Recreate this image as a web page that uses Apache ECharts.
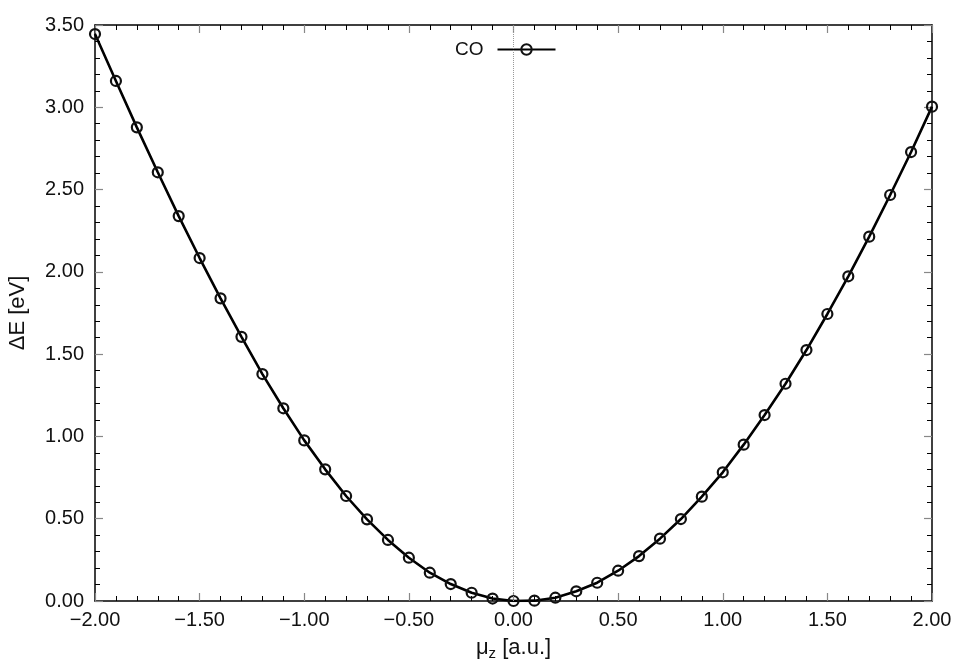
<!DOCTYPE html>
<html>
<head>
<meta charset="utf-8">
<script src="https://cdn.jsdelivr.net/npm/echarts@6/dist/echarts.min.js"></script>
<style>html,body{margin:0;padding:0;background:#fff}#c{width:955px;height:660px}</style>
</head>
<body>
<div id="c"></div>
<script>
const seriesName = 'CO';
const muZ = [-2.0,-1.9,-1.8,-1.7,-1.6,-1.5,-1.4,-1.3,-1.2,-1.1,-1.0,-0.9,-0.8,-0.7,-0.6,-0.5,-0.4,-0.3,-0.2,-0.1,0.0,0.1,0.2,0.3,0.4,0.5,0.6,0.7,0.8,0.9,1.0,1.1,1.2,1.3,1.4,1.5,1.6,1.7,1.8,1.9,2.0];
const deltaE = [3.445,3.160,2.878,2.605,2.339,2.084,1.839,1.605,1.379,1.171,0.976,0.800,0.638,0.496,0.371,0.263,0.172,0.103,0.050,0.015,0.000,0.002,0.020,0.059,0.111,0.184,0.273,0.379,0.498,0.634,0.782,0.950,1.130,1.320,1.525,1.744,1.973,2.214,2.467,2.728,3.004];
const xTicks = {min: -2, max: 2, interval: 0.5};
const yTicks = {min: 0, max: 3.5, interval: 0.5};

const font = 'Liberation Sans, Arial, sans-serif';
const fmt = v => (v < 0 ? '\u2212' : '') + Math.abs(v).toFixed(2);
const points = muZ.map((x, i) => [x, deltaE[i]]);

const tickCommon = {
  axisLine: {show: true, onZero: false, lineStyle: {color: '#000', width: 1.5}},
  axisTick: {show: true, inside: true, length: 8, lineStyle: {color: '#888', width: 1.2}},
  minorTick: {show: true, splitNumber: 5, length: 5, lineStyle: {color: '#000', width: 1}},
  splitLine: {show: false},
  minorSplitLine: {show: false}
};

const chart = echarts.init(document.getElementById('c'), null, {renderer: 'canvas'});
chart.setOption({
  animation: false,
  backgroundColor: '#fff',
  textStyle: {fontFamily: font},
  grid: {left: 95, right: 23, top: 25, bottom: 59, containLabel: false, outerBoundsMode: 'none'},
  legend: {
    data: [seriesName],
    left: 450, top: 35,
    align: 'right',
    itemWidth: 58, itemHeight: 13,
    textStyle: {fontFamily: font, fontSize: 19, color: '#111', padding: [0, 9, 0, 0]}
  },
  xAxis: [
    Object.assign({
      type: 'value', position: 'bottom', min: xTicks.min, max: xTicks.max, interval: xTicks.interval,
      axisLabel: {formatter: fmt, fontFamily: font, fontSize: 20, color: '#111', margin: 9},
      name: '\u03bc{s|z} [a.u.]', nameLocation: 'middle', nameGap: 33,
      nameTextStyle: {fontFamily: font, fontSize: 22, color: '#111',
        rich: {s: {fontFamily: font, fontSize: 15, color: '#111', padding: [12, 0, 0, 0]}}}
    }, tickCommon),
    Object.assign({
      type: 'value', position: 'top', min: xTicks.min, max: xTicks.max, interval: xTicks.interval,
      axisLabel: {show: false}
    }, tickCommon)
  ],
  yAxis: [
    Object.assign({
      type: 'value', position: 'left', min: yTicks.min, max: yTicks.max, interval: yTicks.interval,
      axisLabel: {formatter: fmt, fontFamily: font, fontSize: 20, color: '#111', margin: 11},
      name: '\u0394E [eV]', nameLocation: 'middle', nameGap: 66, nameRotate: 90,
      nameTextStyle: {fontFamily: font, fontSize: 22, color: '#111'}
    }, tickCommon),
    Object.assign({
      type: 'value', position: 'right', min: yTicks.min, max: yTicks.max, interval: yTicks.interval,
      axisLabel: {show: false}
    }, tickCommon)
  ],
  series: [{
    name: seriesName,
    type: 'line',
    xAxisIndex: 0, yAxisIndex: 0,
    data: points,
    symbol: 'circle', symbolSize: 10,
    showAllSymbol: true,
    lineStyle: {color: '#000', width: 2.6},
    itemStyle: {color: 'rgba(255,255,255,0)', borderColor: '#111', borderWidth: 2.2},
    color: '#000',
    markLine: {
      silent: true, symbol: ['none', 'none'],
      label: {show: false},
      lineStyle: {color: '#999', type: 'dotted', width: 1},
      data: [{xAxis: 0}]
    },
    z: 3
  }]
});
</script>
</body>
</html>
